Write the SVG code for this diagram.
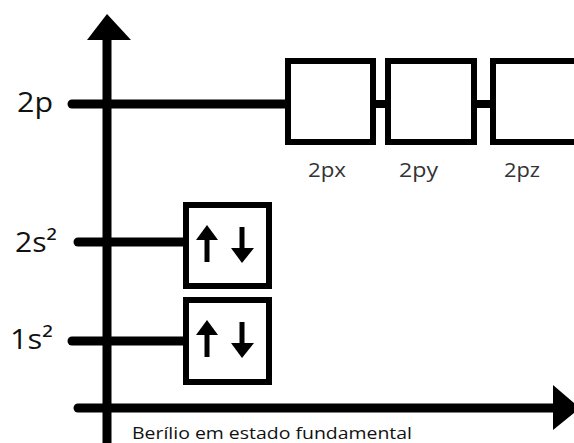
<svg xmlns="http://www.w3.org/2000/svg" width="574" height="443" viewBox="0 0 574 443">
<style>
.ln{stroke:#000;stroke-width:9;stroke-linecap:round;fill:none}
.box{fill:#fff;stroke:#000;stroke-width:6}
.lbl{font-family:"Open Sans","Liberation Sans",sans-serif;fill:#111}
.sub{font-family:"Open Sans","Liberation Sans",sans-serif;fill:#333;font-size:20px}
</style>
<rect width="574" height="443" fill="#fff"/>
<g id="connectors">
<line class="ln" x1="107" y1="36" x2="107" y2="448"/>
<polygon points="107,14 131,40 87,40" fill="#000"/>
<line class="ln" x1="78" y1="408" x2="556" y2="408"/>
<polygon points="580,408 553,385 553,430" fill="#000"/>
<line class="ln" x1="72" y1="104" x2="287" y2="104"/>
<line x1="375" y1="104" x2="387" y2="104" stroke="#000" stroke-width="8"/>
<line x1="476" y1="104" x2="491" y2="104" stroke="#000" stroke-width="8"/>
<line class="ln" x1="78" y1="242" x2="185" y2="242"/>
<line class="ln" x1="72" y1="341" x2="185" y2="341"/>
</g>
<g id="axis-labels">
<text class="lbl" x="17" y="112" font-size="28" textLength="36" lengthAdjust="spacingAndGlyphs">2p</text>
<text class="lbl" x="15" y="252" font-size="28" textLength="42" lengthAdjust="spacingAndGlyphs">2s²</text>
<text class="lbl" x="10" y="349" font-size="28" textLength="43" lengthAdjust="spacingAndGlyphs">1s²</text>
</g>
<g id="box-2px">
<rect class="box" x="288" y="61" width="85" height="81"/>
<text class="sub" x="308" y="177" textLength="38" lengthAdjust="spacingAndGlyphs">2px</text>
</g>
<g id="box-2py">
<rect class="box" x="388" y="61" width="86" height="81"/>
<text class="sub" x="399" y="177" textLength="39" lengthAdjust="spacingAndGlyphs">2py</text>
</g>
<g id="box-2pz">
<rect class="box" x="493" y="61" width="90" height="81"/>
<text class="sub" x="504" y="177" textLength="36" lengthAdjust="spacingAndGlyphs">2pz</text>
</g>
<g id="box-2s">
<rect class="box" x="186" y="205" width="83" height="81"/>
<line x1="207" y1="238" x2="207" y2="262" stroke="#000" stroke-width="5"/>
<polygon points="207,225 218,240 196,240" fill="#000"/>
<line x1="242" y1="227" x2="242" y2="250" stroke="#000" stroke-width="5"/>
<polygon points="242,263 254,248 231,248" fill="#000"/>
</g>
<g id="box-1s">
<rect class="box" x="186" y="300" width="83" height="82"/>
<line x1="207" y1="333" x2="207" y2="357" stroke="#000" stroke-width="5"/>
<polygon points="207,320 218,335 196,335" fill="#000"/>
<line x1="242" y1="322" x2="242" y2="345" stroke="#000" stroke-width="5"/>
<polygon points="242,358 254,343 231,343" fill="#000"/>
</g>
<g id="caption">
<text class="lbl" x="132" y="439" font-size="17" fill="#2a1a10" textLength="280" lengthAdjust="spacingAndGlyphs">Berílio em estado fundamental</text>
</g>
</svg>
